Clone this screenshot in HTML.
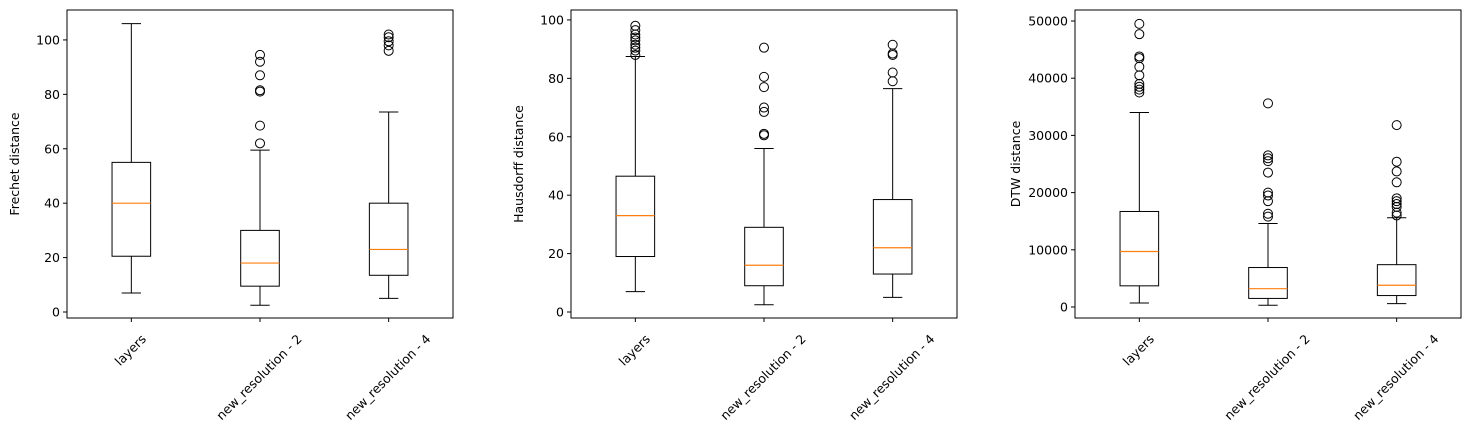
<!DOCTYPE html>
<html><head><meta charset="utf-8"><style>
body{margin:0;background:#fff;font-family:"Liberation Sans","DejaVu Sans",sans-serif;}
svg text{font-family:"DejaVu Sans","Liberation Sans",sans-serif;font-size:12.5px;fill:#000;}
</style></head><body>
<svg id="chart" width="1470" height="437" xmlns="http://www.w3.org/2000/svg"></svg>
<script>
const categories = ["layers", "new_resolution - 2", "new_resolution - 4"];
const frechetStats = [[7,20.5,40,55,106],[2.5,9.5,18,30,59.5],[5,13.5,23,40,73.5]];
const frechetFliers = [[],[62,68.5,81,81.5,87,92,94.5],[96,98,99.5,101,102]];
const hausdorffStats = [[7,19,33,46.5,87.5],[2.5,9,16,29,56],[5,13,22,38.5,76.5]];
const hausdorffFliers = [[88,89.5,90.5,91.5,93,94,95,96.5,98],[60.5,61,68.5,70,77,80.5,90.5],[79,82,88,88.5,91.5]];
const dtwStats = [[700,3700,9700,16700,34000],[300,1500,3200,6900,14600],[600,2000,3800,7400,15600]];
const dtwFliers = [[37500,38000,38500,39000,40500,42000,43500,43800,47700,49500],[15800,16300,18500,19500,20000,23500,25500,26000,26500,35600],[16000,16500,17500,18000,18500,19000,21800,23700,25400,31800]];
const frechetTicks = [0,20,40,60,80,100];
const hausdorffTicks = [0,20,40,60,80,100];
const dtwTicks = [0,10000,20000,30000,40000,50000];

const NS="http://www.w3.org/2000/svg";
const svg=document.getElementById('chart');
function mk(tag,attrs,parent){const e=document.createElementNS(NS,tag);for(const k in attrs)e.setAttribute(k,attrs[k]);(parent||svg).appendChild(e);return e;}

function panel(x0,ymin,ymax,stats,fliers,ticks,ylabel,pname){
  const top=10,bot=318;
  const g=mk('g',{});
  
  
  const ys=v=>bot-(v-ymin)/(ymax-ymin)*(bot-top);
  const xs=p=>x0+(p-0.5)/3*386;
  const bw=0.3*386/3;
  stats.forEach((s,i)=>{
    const cx=xs(i+1);
    const bg=mk('g',{},g);
    
    
    const st={stroke:'#000','stroke-width':1,fill:'none'};
    mk('line',Object.assign({x1:cx,x2:cx,y1:ys(s[0]),y2:ys(s[1])},st),bg);
    mk('line',Object.assign({x1:cx,x2:cx,y1:ys(s[3]),y2:ys(s[4])},st),bg);
    mk('line',Object.assign({x1:cx-bw/4,x2:cx+bw/4,y1:ys(s[0]),y2:ys(s[0])},st),bg);
    mk('line',Object.assign({x1:cx-bw/4,x2:cx+bw/4,y1:ys(s[4]),y2:ys(s[4])},st),bg);
    mk('rect',Object.assign({x:cx-bw/2,y:ys(s[3]),width:bw,height:ys(s[1])-ys(s[3])},st),bg);
    mk('line',{x1:cx-bw/2,x2:cx+bw/2,y1:ys(s[2]),y2:ys(s[2]),stroke:'#ff7f0e','stroke-width':1.2},bg);
    fliers[i].forEach(f=>{
      const c=mk('circle',{cx:cx,cy:ys(f),r:4.5,fill:'none',stroke:'#000','stroke-width':1},bg);
      
      
    });
    mk('line',{x1:cx,x2:cx,y1:bot,y2:bot+4,stroke:'#000'},g);
    const t=mk('text',{x:0,y:0,'text-anchor':'middle'},g);
    t.textContent=categories[i];
    
    
    const L=t.getComputedTextLength();
    const cy=bot+14+(L+13)*0.7071/2;
    t.setAttribute('transform',`translate(${cx-1} ${cy}) rotate(-45) translate(0 4.5)`);
  });
  ticks.forEach(v=>{
    const y=ys(v);
    mk('line',{x1:x0-4,x2:x0,y1:y,y2:y,stroke:'#000'},g);
    const t=mk('text',{x:x0-7,y:y+4.5,'text-anchor':'end'},g);
    t.textContent=v;
    
    
  });
  const fr=mk('rect',{x:x0,y:top,width:386,height:bot-top,fill:'none',stroke:'#000','stroke-width':1},g);
  
  
  const lx=x0-(ticks[ticks.length-1]>=10000?55:48);
  const yl=mk('text',{x:lx,y:(top+bot)/2,'text-anchor':'middle',transform:`rotate(-90 ${lx} ${(top+bot)/2})`},g);
  yl.textContent=ylabel;
  
  
}
panel(67,-2.2,111,frechetStats,frechetFliers,frechetTicks,'Frechet distance','frechet-panel');
panel(571,-2.05,103.4,hausdorffStats,hausdorffFliers,hausdorffTicks,'Hausdorff distance','hausdorff-panel');
panel(1075,-1923,51923,dtwStats,dtwFliers,dtwTicks,'DTW distance','dtw-panel');
</script>
</body></html>
